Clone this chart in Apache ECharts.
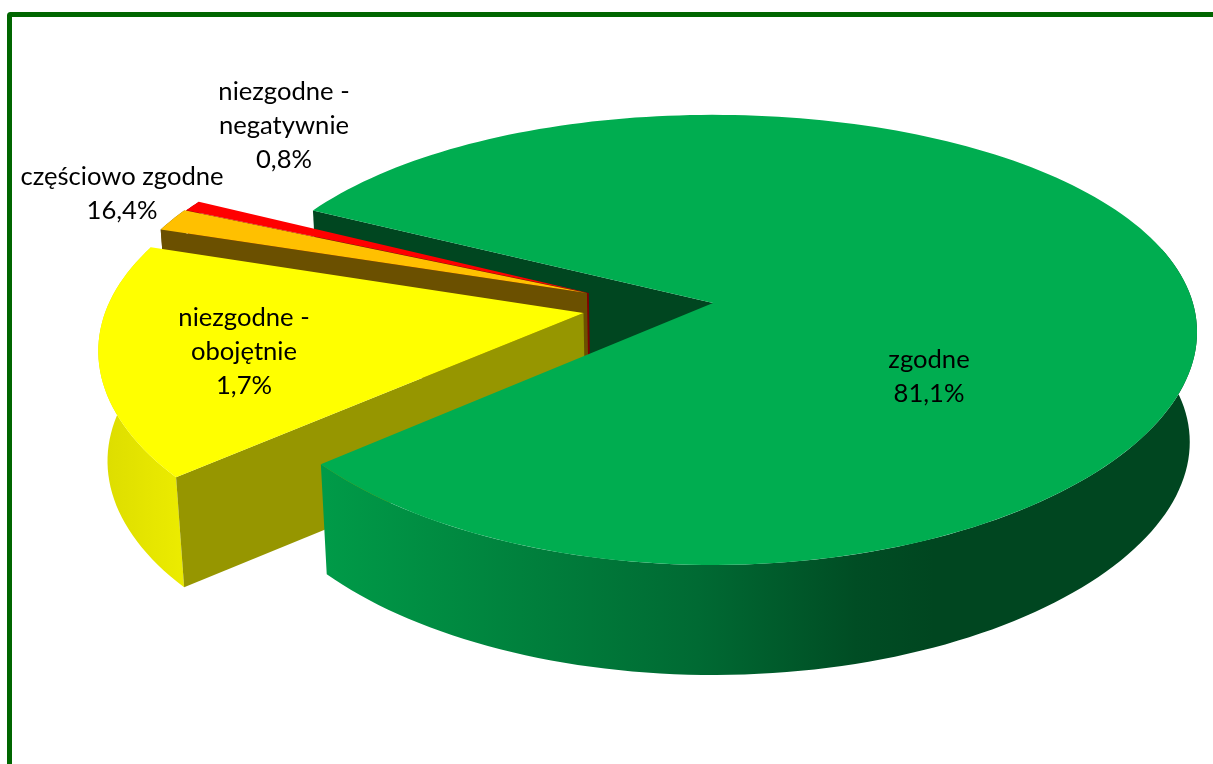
<!DOCTYPE html>
<html>
<head>
<meta charset="utf-8">
<style>html,body{margin:0;padding:0;background:#fff;overflow:hidden}#c{width:1213px;height:764px}</style>
<script src="https://cdn.jsdelivr.net/npm/echarts@6/dist/echarts.min.js"></script>
</head>
<body>
<div id="c"></div>
<script>
// Data
const sliceNames = ['zgodne', 'niezgodne - obojętnie', 'częściowo zgodne', 'niezgodne - negatywnie'];
const sliceValues = [81.1, 16.4, 1.7, 0.8];
const labelTexts = ['zgodne', 'niezgodne -\nobojętnie', 'częściowo zgodne', 'niezgodne -\nnegatywnie'];
const labelPercents = ['81,1%', '1,7%', '16,4%', '0,8%'];

// Layout and style
const view = { x: 713, y: 303, k: 477.5, m: 219, p: 0.164, px: 0.13, q: 0.005, depth: 110, shrink: 0.985 };
const startAngle = 207;
const rimFrom = 345;
const explode = [[0, 0], [-0.27, 0.045], [-0.266, -0.046], [-0.262, -0.046]];
const radius = [1, 1.004, 1, 1];
const labelAt = [[929, 377], [244, 352], [122, 193.5], [284, 126]];
const topColors = ['#00AD50', '#FFFF00', '#FFC000', '#FF0000'];
const cutColors = ['#004620', '#969600', '#6B5000', '#800000'];
const rimColors = [
  [[0, '#009B48'], [0.43, '#006A33'], [0.61, '#004D24'], [0.70, '#004620'], [1, '#004620']],
  [[0, '#DCDC00'], [1, '#ECEC00']],
  [[0, '#6B5000'], [1, '#6B5000']],
  [[0, '#800000'], [1, '#800000']]
];
const total = sliceValues.reduce((a, b) => a + b, 0);

function project(u, v, h) {
  const wx = 1 - view.px * v - view.q * u;
  const wy = 1 - view.p * v;
  const s = h ? view.shrink : 1;
  return [view.x + s * view.k * u / wx, view.y + view.m * v / wy + (h ? view.depth : 0)];
}
function arc(i, a0, a1, h) {
  const [ex, ey] = explode[i];
  const r = radius[i];
  const n = Math.max(4, Math.ceil(Math.abs(a1 - a0) / 1.5));
  const out = [];
  for (let j = 0; j <= n; j++) {
    const t = (a0 + (a1 - a0) * j / n) * Math.PI / 180;
    out.push(project(ex + r * Math.cos(t), ey + r * Math.sin(t), h));
  }
  return out;
}
function poly(points, fill, z2) {
  return { type: 'polygon', z2, silent: true, shape: { points }, style: { fill, stroke: null } };
}
function renderSlice(params, api) {
  const i = params.dataIndex;
  const before = sliceValues.slice(0, i).reduce((a, b) => a + b, 0);
  const a0 = startAngle + before / total * 360;
  const a1 = a0 + api.value(0) / total * 360;
  const [ex, ey] = explode[i];
  const apex0 = project(ex, ey, 0), apex1 = project(ex, ey, 1);
  const top = arc(i, a0, a1, 0);
  const rimStart = i === 0 ? rimFrom : a0;
  const rimTop = arc(i, rimStart, a1, 0), rimBot = arc(i, rimStart, a1, 1);
  const xs = rimTop.concat(rimBot).map(p => p[0]);
  const rimFill = {
    type: 'linear', global: true,
    x: Math.min(...xs), y: 0, x2: Math.max(...xs), y2: 0,
    colorStops: rimColors[i].map(c => ({ offset: c[0], color: c[1] }))
  };
  const base = (4 - i) * 10;
  const children = [];
  const s = top[0], sb = arc(i, a0, a0, 1)[0];
  if (i === 0) {
    children.push(poly([apex0, s, sb, apex1], cutColors[0], 1));
    children.push(poly(rimTop.concat(rimBot.slice().reverse()), rimFill, 60));
    children.push(poly([apex0].concat(top), topColors[0], 61));
  } else {
    children.push(poly(rimTop.concat(rimBot.slice().reverse()), rimFill, base));
    children.push(poly([apex0, s, sb, apex1], cutColors[i], base + 1));
    children.push(poly([apex0].concat(top), topColors[i], base + 2));
  }
  children.push({
    type: 'text', z2: 100, silent: true,
    style: {
      x: labelAt[i][0], y: labelAt[i][1],
      text: labelTexts[i] + '\n' + labelPercents[i],
      fill: '#000', font: '25.6px Lato', lineHeight: 34,
      align: 'center', verticalAlign: 'middle'
    }
  });
  return { type: 'group', children };
}

const chart = echarts.init(document.getElementById('c'), null, { renderer: 'canvas' });
chart.setOption({
  animation: false,
  backgroundColor: '#fff',
  graphic: [{
    type: 'rect', silent: true, z: 50,
    shape: { x: 9.5, y: 14.5, width: 1400, height: 1000, r: 1 },
    style: { fill: 'none', stroke: '#006600', lineWidth: 5 }
  }],
  series: [{
    type: 'custom',
    coordinateSystem: 'none',
    renderItem: renderSlice,
    silent: true,
    data: sliceValues.map((v, i) => ({ name: sliceNames[i], value: [v] }))
  }]
});
</script>
</body>
</html>
